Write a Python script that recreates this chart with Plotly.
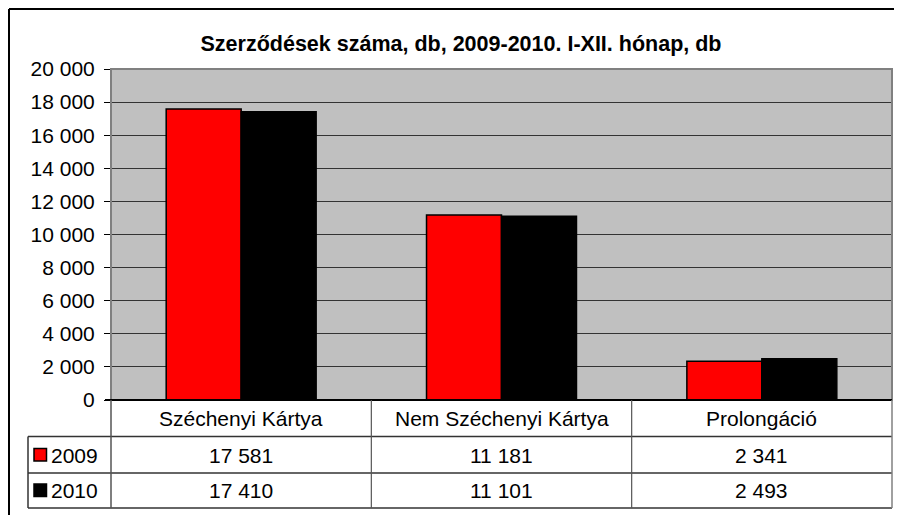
import plotly.graph_objects as go

categories = ["Széchenyi Kártya", "Nem Széchenyi Kártya", "Prolongáció"]
series_names = ["2009", "2010"]
values_2009 = [17581, 11181, 2341]
values_2010 = [17410, 11101, 2493]
series_colors = ["#FF0000", "#000000"]
title_text = "Szerződések száma, db, 2009-2010. I-XII. hónap, db"
tick_values = list(range(0, 20001, 2000))

# page body has an 8px margin; figure placed at (8, 8) on screen
OFF = 8
W, H = 902 - 2 * OFF, 523 - 2 * OFF
L, R, T, B = 111 - OFF, 892 - OFF, 69 - OFF, 400 - OFF  # plot area in figure px


def px(x):  # screen x -> paper
    return (x - OFF - L) / (R - L)


def py(y):  # screen y -> paper
    return (B - (y - OFF)) / (B - T)


def fmt(v):
    return f"{v:,}".replace(",", " ")


fig = go.Figure()
for name, vals, col in zip(series_names, [values_2009, values_2010], series_colors):
    fig.add_trace(go.Bar(
        x=categories, y=vals, name=name,
        marker=dict(color=col, line=dict(color="#000000", width=1.5)),
        hoverinfo="x+y",
    ))

FONT = "Liberation Sans, Arial, sans-serif"
FS = 21

fig.update_layout(
    width=W, height=H,
    margin=dict(l=L, r=W - R, t=T, b=H - B, pad=0),
    paper_bgcolor="#FFFFFF",
    plot_bgcolor="#C0C0C0",
    barmode="group",
    bargap=0.424,
    bargroupgap=0,
    showlegend=False,
    separators=", ",
    font=dict(family=FONT, size=FS, color="#000000"),
    title=dict(text="<b>" + title_text + "</b>", x=px(461), xref="paper",
               y=1 - (43 - OFF) / H, yref="container", yanchor="middle", xanchor="center",
               font=dict(family=FONT, size=21.5, color="#000000")),
    xaxis=dict(showticklabels=False, showgrid=False, ticks="", showline=False,
               zeroline=False),
    yaxis=dict(range=[0, 20000], tickvals=tick_values,
               ticktext=[fmt(v) for v in tick_values],
               ticks="outside", ticklen=6, tickcolor="#000000", tickwidth=1,
               ticklabelstandoff=5,
               showgrid=True, gridcolor="#333333", gridwidth=1,
               zeroline=False, showline=False,
               tickfont=dict(family=FONT, size=FS, color="#000000")),
)

shapes = []
# chart outer border (left and top)
shapes.append(dict(type="line", xref="paper", yref="paper",
                   x0=px(9), x1=px(910), y0=py(9), y1=py(9),
                   line=dict(color="#000000", width=2)))
shapes.append(dict(type="line", xref="paper", yref="paper",
                   x0=px(9), x1=px(9), y0=py(9), y1=py(530),
                   line=dict(color="#000000", width=2)))
# plot area border
shapes.append(dict(type="rect", xref="paper", yref="paper",
                   x0=0, x1=1, y0=0, y1=1,
                   line=dict(color="#808080", width=2)))
# category axis line
shapes.append(dict(type="line", xref="paper", yref="paper",
                   x0=px(105), x1=1, y0=0, y1=0,
                   line=dict(color="#000000", width=2)))

# data table
row_lines = [436.5, 473, 508]
for yy in row_lines:
    shapes.append(dict(type="line", xref="paper", yref="paper",
                       x0=px(28), x1=1, y0=py(yy), y1=py(yy),
                       line=dict(color="#333333", width=1.5)))
shapes.append(dict(type="line", xref="paper", yref="paper",
                   x0=px(28), x1=px(28), y0=py(436.5), y1=py(508),
                   line=dict(color="#333333", width=1.5)))
n = len(categories)
for i in range(n + 1):
    col = "#808080" if i == n else "#555555"
    shapes.append(dict(type="line", xref="paper", yref="paper",
                       x0=i / n, x1=i / n, y0=0, y1=py(508),
                       line=dict(color=col, width=1.5 if i in (0, n) else 1.2)))

annotations = []
row_centers = [418, 455, 490.5]
for i, cat in enumerate(categories):
    cx = (i + 0.5) / n
    annotations.append(dict(text=cat, x=cx, y=py(row_centers[0]),
                            xref="paper", yref="paper", showarrow=False,
                            xanchor="center", yanchor="middle",
                            font=dict(family=FONT, size=FS, color="#000000")))
    for r, vals in enumerate([values_2009, values_2010]):
        annotations.append(dict(text=fmt(vals[i]), x=cx, y=py(row_centers[r + 1]),
                                xref="paper", yref="paper", showarrow=False,
                                xanchor="center", yanchor="middle",
                                font=dict(family=FONT, size=FS, color="#000000")))

for r, (name, col) in enumerate(zip(series_names, series_colors)):
    yc = row_centers[r + 1]
    shapes.append(dict(type="rect", xref="paper", yref="paper",
                       x0=px(34), x1=px(46.5), y0=py(yc - 6.5), y1=py(yc + 6),
                       fillcolor=col, line=dict(color="#000000", width=1.5)))
    annotations.append(dict(text=name, x=px(49), y=py(yc),
                            xref="paper", yref="paper", showarrow=False,
                            xanchor="left", yanchor="middle",
                            font=dict(family=FONT, size=FS, color="#000000")))

fig.update_layout(shapes=shapes, annotations=annotations)
fig.write_html("out.html")
